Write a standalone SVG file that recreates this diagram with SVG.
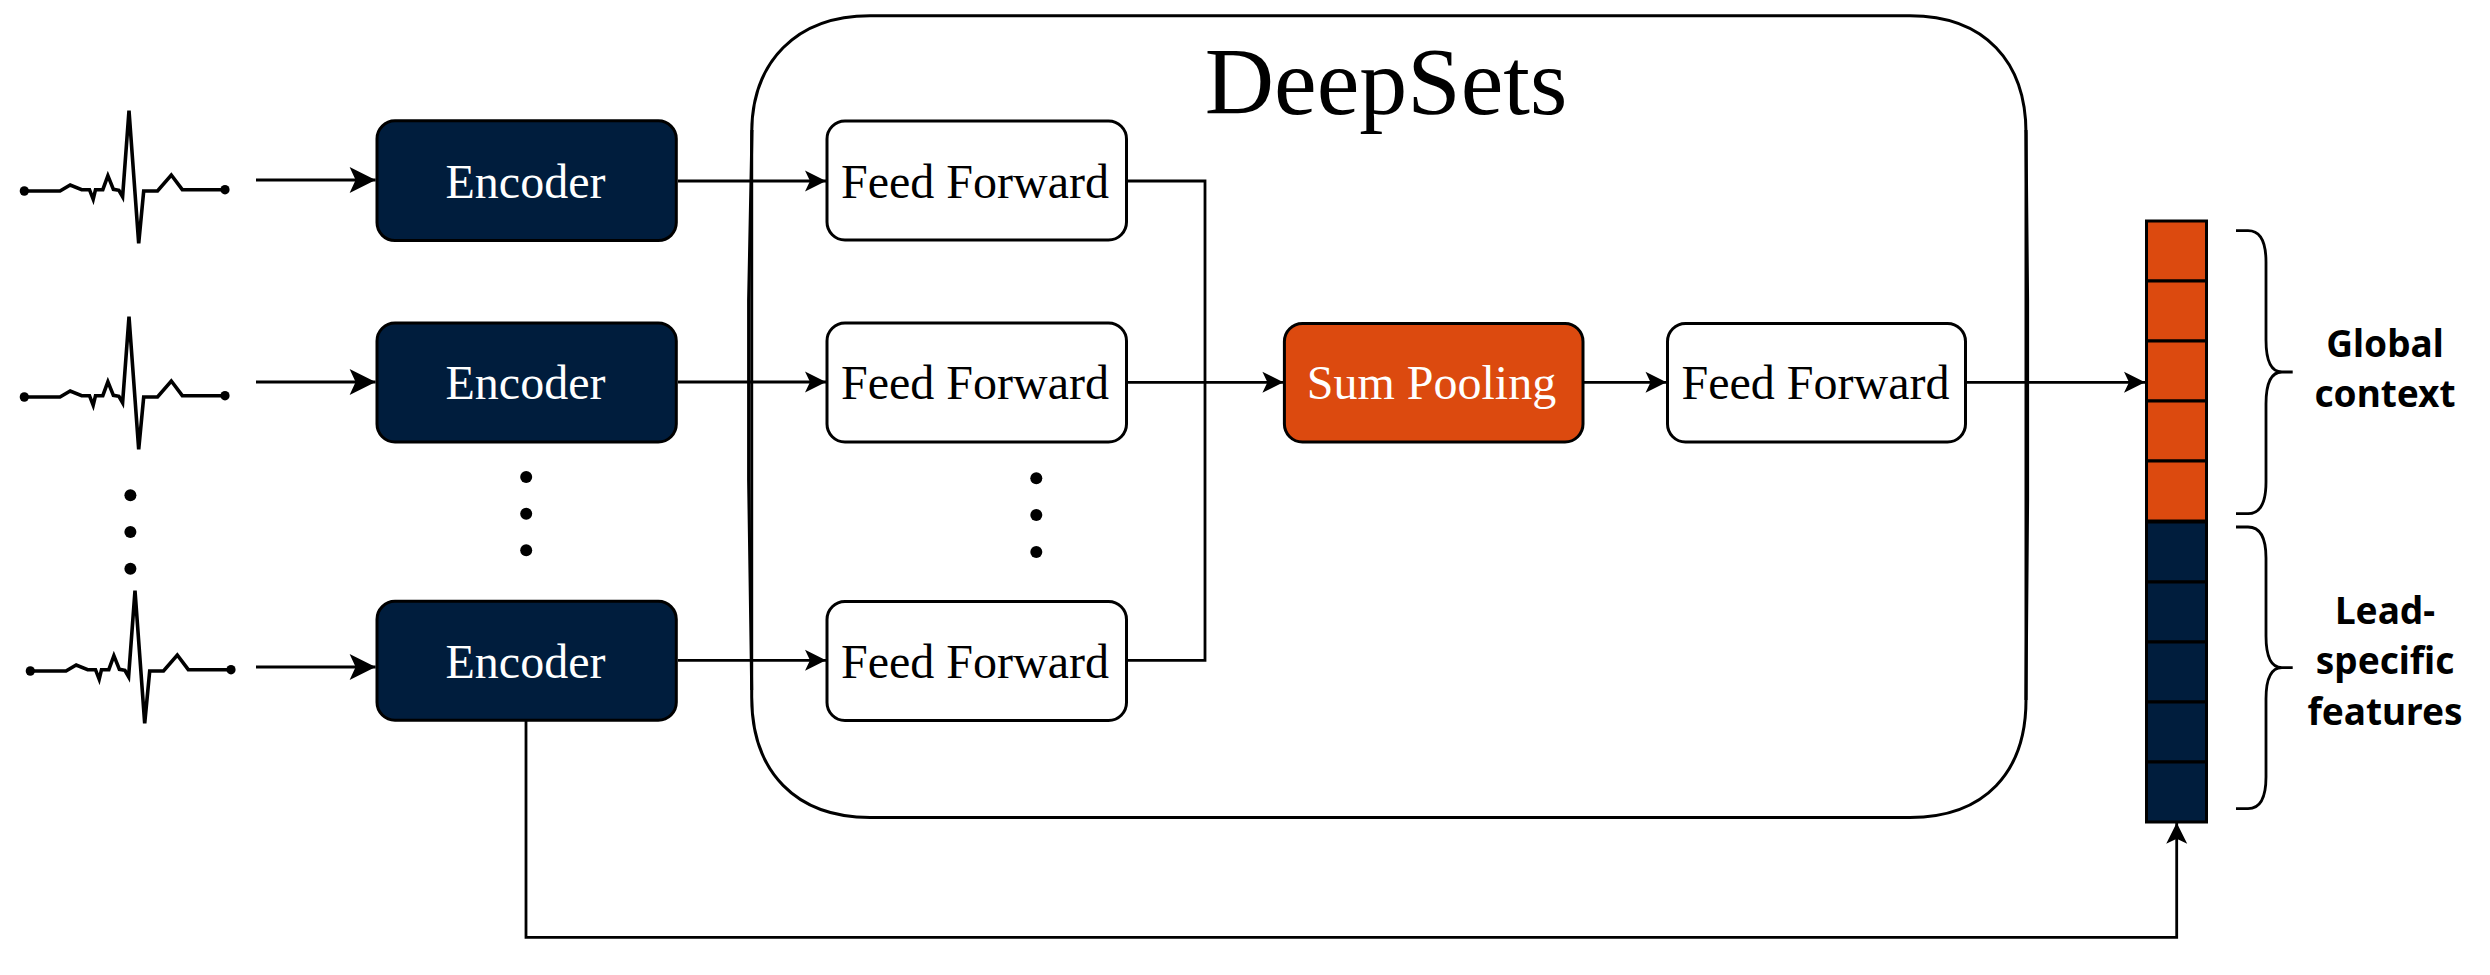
<svg xmlns="http://www.w3.org/2000/svg" width="2490" height="975" viewBox="0 0 2490 975">
<style>
.box{stroke:#000;stroke-width:3}
.navy{fill:#001d3d}.orange{fill:#dc4a0f}.white{fill:#fff}
.t{font-family:"Liberation Serif",serif;font-size:48px;text-anchor:middle}
.w{fill:#fff}.k{fill:#000}
.lab{font-family:"Noto Sans","Open Sans",sans-serif;font-weight:700;font-size:37px;text-anchor:middle;fill:#000}
.c{fill:none;stroke:#000;stroke-width:2.8}
.brace{fill:none;stroke:#000;stroke-width:2.8}
.ecg{fill:none;stroke:#000;stroke-width:3.6}
.outer{fill:none;stroke:#000;stroke-width:3}
</style>
<defs>
<marker id="big" markerUnits="userSpaceOnUse" markerWidth="28" markerHeight="28" refX="26" refY="13" orient="auto" overflow="visible"><path d="M0 0L26 13L0 26L6 13Z" fill="#000"/></marker>
<marker id="small" markerUnits="userSpaceOnUse" markerWidth="22" markerHeight="22" refX="21" refY="10.5" orient="auto" overflow="visible"><path d="M0 0L21 10.5L0 21L5 10.5Z" fill="#000"/></marker>
<g id="wave">
<path class="ecg" d="M24.3 191H60L70.2 185L81.7 189.7H89.5L93.2 199.3L95.5 189.7H102.8L107.9 175.7L113.4 189.3L118.9 190.3L122.6 196.7L129 110.7L138.7 243.3L143.7 191H157.5L171.3 175L182.3 189.7H225"/>
<ellipse cx="24.3" cy="191" rx="4.6" ry="4.8"/><ellipse cx="225" cy="189.7" rx="4.6" ry="4.8"/>
</g>
</defs>
<g id="deepsets"><path class="outer" d="M870 15.7H1910C1985 15.7 2026 62 2026 133V700C2026 772 1985 817.4 1910 817.4H870C796 817.4 751.7 772 751.7 697V133C751.7 62 796 15.7 870 15.7Z"/>
<path class="outer" d="M752 130L748.6 300V480L751.7 690"/>
<path class="outer" d="M2026 130L2027.6 300V500L2026 700"/>
<text x="1386" y="114" font-family="Liberation Serif,serif" font-size="96" text-anchor="middle">DeepSets</text></g>
<g id="connectors">
<path class="c" d="M256 180H375.6" marker-end="url(#big)"/>
<path class="c" d="M256 382H375.6" marker-end="url(#big)"/>
<path class="c" d="M256 667H375.6" marker-end="url(#big)"/>
<path class="c" d="M678 181H826" marker-end="url(#small)"/>
<path class="c" d="M678 382H826" marker-end="url(#small)"/>
<path class="c" d="M678 660.3H826" marker-end="url(#small)"/>
<path class="c" d="M1127 181H1205V660.3H1127"/>
<path class="c" d="M1127 382.3H1283.4" marker-end="url(#small)"/>
<path class="c" d="M1584 382.3H1666.5" marker-end="url(#small)"/>
<path class="c" d="M1966.5 382.3H2145" marker-end="url(#small)"/>
<path class="c" d="M526 721V937.3H2176.7V822.7" marker-end="url(#small)"/>
</g>
<g id="signal1"><use href="#wave"/></g>
<g id="signal2"><use href="#wave" y="206"/></g>
<g id="signal3"><use href="#wave" x="6" y="480"/></g>
<g id="dots-signal"><ellipse cx="130.4" cy="495.3" rx="6" ry="6"/><ellipse cx="130.4" cy="532" rx="6" ry="6"/><ellipse cx="130.4" cy="568.7" rx="6" ry="6"/></g>
<g id="encoder1"><rect class="box navy" x="377" y="120.8" width="299.3" height="119.8" rx="18"/><text class="t w" x="525.5" y="198.3">Encoder</text></g>
<g id="encoder2"><rect class="box navy" x="377" y="323" width="299.3" height="119" rx="18"/><text class="t w" x="525.5" y="399.3">Encoder</text></g>
<g id="encoder3"><rect class="box navy" x="377" y="601.3" width="299.3" height="119" rx="18"/><text class="t w" x="525.5" y="678.3">Encoder</text></g>
<g id="dots-encoder"><ellipse cx="526.2" cy="477" rx="6" ry="6"/><ellipse cx="526.2" cy="513.7" rx="6" ry="6"/><ellipse cx="526.2" cy="550.3" rx="6" ry="6"/></g>
<g id="ff1"><rect class="box white" x="827" y="121" width="299.5" height="119" rx="18"/><text class="t k" x="975" y="198.3">Feed Forward</text></g>
<g id="ff2"><rect class="box white" x="827" y="323" width="299.5" height="119" rx="18"/><text class="t k" x="975" y="399.3">Feed Forward</text></g>
<g id="ff3"><rect class="box white" x="827" y="601.5" width="299.5" height="119" rx="18"/><text class="t k" x="975" y="678.3">Feed Forward</text></g>
<g id="dots-ff"><ellipse cx="1036.3" cy="478.3" rx="6" ry="6"/><ellipse cx="1036.3" cy="515" rx="6" ry="6"/><ellipse cx="1036.3" cy="552" rx="6" ry="6"/></g>
<g id="sum"><rect class="box orange" x="1284.4" y="323.5" width="298.6" height="118.5" rx="18"/><text class="t w" x="1431.5" y="399.3">Sum Pooling</text></g>
<g id="ff4"><rect class="box white" x="1667.5" y="323.5" width="298" height="118.5" rx="18"/><text class="t k" x="1815.5" y="399.3">Feed Forward</text></g>
<g id="vector">
<rect class="box orange" x="2146.5" y="221" width="60" height="60"/><rect class="box orange" x="2146.5" y="281" width="60" height="60"/><rect class="box orange" x="2146.5" y="341" width="60" height="60"/><rect class="box orange" x="2146.5" y="401" width="60" height="60"/><rect class="box orange" x="2146.5" y="461" width="60" height="60"/>
<rect class="box navy" x="2146.5" y="522" width="60" height="60"/><rect class="box navy" x="2146.5" y="582" width="60" height="60"/><rect class="box navy" x="2146.5" y="642" width="60" height="60"/><rect class="box navy" x="2146.5" y="702" width="60" height="60"/><rect class="box navy" x="2146.5" y="762" width="60" height="60"/>
</g>
<g id="brace-global"><path class="brace" d="M2236 230.7H2248Q2266 230.7 2266 262V340Q2266 372 2282 372H2292.7M2282 372Q2266 372 2266 404V482Q2266 513.7 2248 513.7H2236"/>
<text class="lab" x="2385" y="356.7">Global</text><text class="lab" x="2385" y="407.3">context</text></g>
<g id="brace-lead"><path class="brace" d="M2236 527H2248Q2266 527 2266 558V636Q2266 667.7 2282 667.7H2292.7M2282 667.7Q2266 667.7 2266 699V777Q2266 808.7 2248 808.7H2236"/>
<text class="lab" x="2385" y="624">Lead-</text><text class="lab" x="2385" y="674">specific</text><text class="lab" x="2385" y="725">features</text></g>
</svg>
